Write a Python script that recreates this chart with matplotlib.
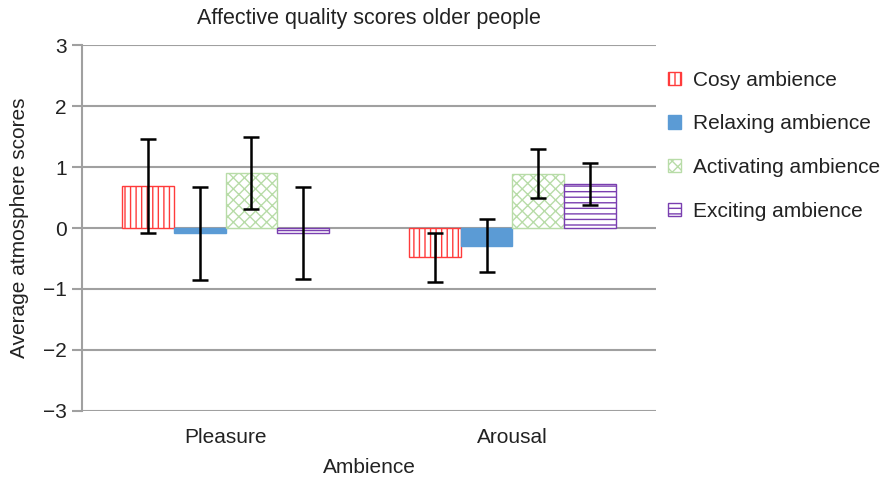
import matplotlib
matplotlib.use('Agg')
import matplotlib.pyplot as plt
import numpy as np

plt.rcParams['font.family'] = ['Liberation Sans', 'DejaVu Sans']
plt.rcParams['hatch.linewidth'] = 1.0

# Data
categories = ['Pleasure', 'Arousal']
series = ['Cosy ambience', 'Relaxing ambience', 'Activating ambience', 'Exciting ambience']
cosy = [0.69, -0.48]
relaxing = [-0.09, -0.29]
activating = [0.90, 0.89]
exciting = [-0.08, 0.72]
cosy_err = [0.77, 0.40]
relaxing_err = [0.76, 0.43]
activating_err = [0.59, 0.40]
exciting_err = [0.75, 0.35]

values = [cosy, relaxing, activating, exciting]
errors = [cosy_err, relaxing_err, activating_err, exciting_err]
faces = ['white', '#5b9bd5', 'white', 'white']
edges = ['#ff3b3b', '#5b9bd5', '#b8dca8', '#7a3fb0']
hatches = ['|||', None, 'xxx', '---']

fig = plt.figure(figsize=(8.84, 4.79), dpi=100)
ax = fig.add_axes([0.093, 0.142, 0.649, 0.764])

x = np.arange(len(categories))
width = 0.18
for i in range(4):
    pos = x + (i - 1.5) * width
    ax.bar(pos, values[i], width, color=faces[i], edgecolor=edges[i],
           hatch=hatches[i], linewidth=1.0, label=series[i], zorder=3)
    ax.errorbar(pos, values[i], yerr=errors[i], fmt='none', ecolor='black',
                elinewidth=1.8, capsize=5.5, capthick=1.8, zorder=4)

ax.set_xlim(-0.5, 1.5)
ax.set_ylim(-3, 3)
ax.set_yticks(range(-3, 4))
ax.set_yticklabels([str(v).replace('-', '\u2212') for v in range(-3, 4)])
ax.set_xticks(x)
ax.set_xticklabels(categories)
ax.yaxis.grid(True, color='#a0a0a0', linewidth=1.5, zorder=0)
ax.set_axisbelow(True)
for s in ['top', 'right', 'bottom']:
    ax.spines[s].set_visible(False)
ax.spines['left'].set_color('#a0a0a0')
ax.spines['left'].set_linewidth(1.5)
ax.tick_params(axis='y', colors='#a0a0a0', labelcolor='#222222', labelsize=15,
               length=7, width=1.5, pad=4)
ax.tick_params(axis='x', length=0, labelsize=15, labelcolor='#222222', pad=12)

ax.set_title('Affective quality scores older people', fontsize=15.5, color='#222222', pad=15)
ax.set_xlabel('Ambience', fontsize=15, color='#222222', labelpad=8)
ax.set_ylabel('Average atmosphere scores', fontsize=15, color='#222222', labelpad=10)

leg = ax.legend(loc='upper left', bbox_to_anchor=(1.007, 0.953), frameon=False,
                borderaxespad=0, fontsize=15, handlelength=0.6, handleheight=0.6,
                labelspacing=1.19, handletextpad=0.6)
for t in leg.get_texts():
    t.set_color('#222222')

plt.savefig('out.png', dpi=100)
